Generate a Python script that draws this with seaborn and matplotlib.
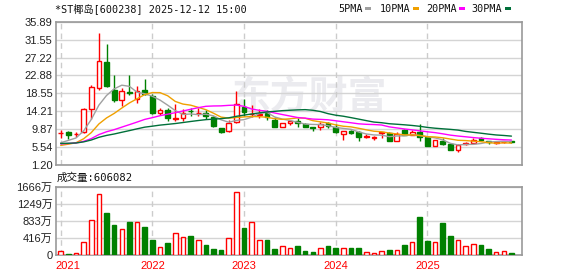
import numpy as np
import pandas as pd
import matplotlib
matplotlib.use("Agg")
import matplotlib.pyplot as plt
import seaborn as sns
from matplotlib.patches import Rectangle

# ---------------- data (monthly K-line, 2021-01 .. 2025-12) ----------------
months = pd.date_range("2021-01-01", periods=60, freq="MS")

open_ = [8.85, 9.20, 8.80, 9.12, 14.69, 19.86, 26.14, 19.46, 16.99, 18.82, 17.23, 19.38,
         17.87, 13.89, 14.45, 12.38, 12.46, 14.37, 13.70, 13.89, 12.86, 10.15, 9.36, 11.66,
         15.28, 13.50, 13.36, 13.68, 12.16, 10.49, 11.37, 11.93, 11.13, 10.49, 10.49, 11.29,
         10.49, 8.73, 9.53, 9.13, 7.93, 7.77, 8.89, 8.89, 7.13, 9.69, 8.57, 9.29,
         7.93, 5.78, 7.13, 6.18, 4.75, 6.18, 6.50, 7.69, 6.89, 6.57, 6.65, 6.89]
high = [9.68, 9.44, 9.20, 15.09, 20.57, 33.20, 30.44, 23.04, 19.86, 23.04, 20.33, 22.00,
        18.27, 15.08, 15.08, 15.88, 14.69, 15.08, 14.93, 14.53, 13.10, 10.20, 12.06, 19.06,
        17.11, 15.76, 14.72, 14.48, 12.72, 11.29, 12.08, 12.56, 11.45, 10.50, 11.53, 11.69,
        11.13, 9.40, 9.77, 9.53, 8.73, 8.33, 9.14, 9.29, 9.13, 9.93, 9.77, 11.13,
        7.95, 7.30, 7.77, 6.20, 6.20, 6.73, 7.69, 8.09, 7.13, 7.05, 7.05, 7.00]
low = [7.69, 7.53, 7.93, 8.88, 12.30, 19.46, 20.00, 16.52, 15.48, 18.03, 16.28, 18.19,
       13.57, 13.26, 11.90, 11.90, 11.90, 13.10, 13.10, 12.38, 10.39, 9.05, 9.28, 11.43,
       13.12, 12.88, 12.48, 12.08, 10.49, 10.49, 10.97, 10.49, 10.49, 9.37, 9.77, 10.17,
       8.89, 7.37, 8.73, 6.97, 7.77, 7.29, 7.77, 6.97, 6.97, 8.40, 8.49, 7.13,
       5.70, 5.70, 5.94, 4.85, 4.35, 5.94, 6.18, 6.97, 6.18, 6.34, 6.50, 6.60]
close = [8.92, 8.56, 8.82, 14.69, 20.10, 26.30, 20.25, 16.83, 19.14, 18.66, 19.14, 18.50,
         13.73, 14.53, 12.54, 12.54, 13.89, 14.21, 13.81, 13.02, 10.55, 9.12, 11.27, 16.04,
         13.92, 13.55, 13.52, 12.72, 10.49, 11.29, 11.93, 11.29, 10.49, 10.09, 11.13, 10.57,
         9.13, 9.37, 8.97, 7.93, 8.17, 7.93, 9.13, 7.13, 8.73, 8.49, 9.13, 8.09,
         5.78, 7.29, 6.18, 4.91, 6.10, 6.42, 7.37, 7.21, 6.65, 6.73, 6.81, 6.65]
# volume in 万
volume = [113, 24, 48, 314, 861, 1489, 1038, 724, 644, 797, 813, 676,
          362, 209, 290, 547, 451, 459, 378, 242, 145, 121, 427, 1538,
          652, 813, 378, 362, 145, 233, 185, 217, 97, 72, 185, 217,
          169, 185, 169, 169, 89, 64, 113, 121, 137, 242, 330, 942,
          338, 314, 773, 459, 378, 233, 266, 242, 145, 89, 113, 60.6]
# estimated monthly closes before 2021 (only feed the moving averages)
prior_closes = [6.9, 6.8, 6.7, 6.6, 6.5, 6.6, 6.5, 6.6, 6.5, 6.3, 6.4, 6.6, 6.8, 6.9, 6.7,
                6.6, 6.7, 6.8, 6.6, 6.7, 5.6, 5.3, 5.1, 5.2, 5.3, 5.7, 5.9, 6.1, 6.3]

ma_periods = [5, 10, 20, 30]
ma_names = ["5PMA", "10PMA", "20PMA", "30PMA"]
ma_colors = ["#a0a0a0", "#f0a000", "#ff00ff", "#00703a"]
price_ticks = ["1.20", "5.54", "9.87", "14.21", "18.55", "22.88", "27.22", "31.55", "35.89"]
vol_ticks = ["0", "416万", "833万", "1249万", "1666万"]
year_labels = ["2021", "2022", "2023", "2024", "2025"]
title = "*ST椰岛[600238] 2025-12-12 15:00"
vol_title = "成交量:606082"

# ---------------- style ----------------
sns.set_theme(style="white")
plt.rcParams["font.family"] = ["Liberation Sans", "Noto Sans CJK SC", "DejaVu Sans"]
mono = ["DejaVu Sans Mono", "Noto Sans CJK SC"]
UP, DOWN = "#ff0000", "#008000"
GRID, FRAME, DASH = "#d4d4d4", "#999999", "#cccccc"

W, H = 578, 276
fig = plt.figure(figsize=(W / 100, H / 100), dpi=100)
fig.patch.set_facecolor("white")
L, R = 56, 522
axp = fig.add_axes([L / W, 1 - 165 / H, (R - L) / W, (165 - 21.7) / H])
axv = fig.add_axes([L / W, 1 - 255.3 / H, (R - L) / W, (255.3 - 186.7) / H])

n = len(close)
x = np.arange(n)
o, h, lo, c, v = map(np.asarray, (open_, high, low, close, volume))
prev = np.concatenate([[prior_closes[-1]], c[:-1]])
up = (c > o) | ((c == o) & (c >= prev))
colors = np.where(up, UP, DOWN)

# watermark
axp.text(0.545, 0.47, "东方财富", transform=axp.transAxes, ha="center", va="center",
         fontsize=28, fontweight="bold", color="#ebebef", family=["Noto Sans CJK SC"], zorder=0)

# candles
bw = 0.62
axp.vlines(x, lo, h, colors=colors, lw=1.0, zorder=2)
body_lo = np.minimum(o, c)
body_h = np.abs(c - o)
axp.bar(x, body_h, bottom=body_lo, width=bw,
        facecolor=np.where(up, "white", DOWN), edgecolor=colors, linewidth=1.0, zorder=3)

# moving averages via seaborn
allc = pd.Series(list(prior_closes) + list(close))
rows = []
for p, name in zip(ma_periods, ma_names):
    ma = allc.rolling(p, min_periods=1).mean().to_numpy()[len(prior_closes):]
    rows.append(pd.DataFrame({"idx": x, "value": ma, "ma": name}))
ma_df = pd.concat(rows, ignore_index=True)
sns.lineplot(data=ma_df, x="idx", y="value", hue="ma", hue_order=ma_names,
             palette=dict(zip(ma_names, ma_colors)), ax=axp, legend=False,
             lw=1.0, zorder=4, estimator=None, sort=False)

# volume
axv.bar(x, v, width=0.6, facecolor=np.where(up, "white", DOWN), edgecolor=colors,
        linewidth=1.0, zorder=3)

# axes cosmetics
xl = (-0.615, 60.38)
for ax in (axp, axv):
    ax.set_xlim(*xl)
    ax.set_xlabel("")
    ax.set_ylabel("")
    ax.set_xticks([])
    ax.tick_params(axis="y", length=0, pad=2.5, labelsize=8, colors="#222222")
    for s in ax.spines.values():
        s.set_color(FRAME)
        s.set_linewidth(1.2)
    ax.set_facecolor("white")
    for yi in range(0, n, 12):
        ax.axvline(yi, color=DASH, lw=1.0, ls=(0, (4, 3)), zorder=1)

pv = [float(t) for t in price_ticks]
axp.set_ylim(pv[0], pv[-1])
axp.set_yticks(pv)
axp.set_yticklabels(price_ticks)
axp.grid(axis="y", color=GRID, lw=1.0)
axp.grid(axis="x", visible=False)
axp.set_axisbelow(True)

vv = np.linspace(0, 1666, 5)
axv.set_ylim(0, 1666)
axv.set_yticks(vv)
axv.set_yticklabels(vol_ticks)
axv.grid(axis="y", color=GRID, lw=1.0)
axv.grid(axis="x", visible=False)
axv.set_axisbelow(True)

# year labels
for k, lab in enumerate(year_labels):
    xi = 12 * k
    if k == 0:
        axv.text(-0.75, -0.16, lab, transform=axv.get_xaxis_transform(), ha="left",
                 va="center", color="#ff0000", fontsize=8)
    else:
        axv.text(xi, -0.16, lab, transform=axv.get_xaxis_transform(), ha="center",
                 va="center", color="#ff0000", fontsize=8)

# titles
fig.text(55 / W, 1 - 9 / H, title, ha="left", va="center", fontsize=7.3, family=mono,
         color="#111111")
fig.text(57 / W, 1 - 177.5 / H, vol_title, ha="left", va="center", fontsize=7.6,
         family=mono, color="#111111")

# legend
leg_x = [338.3, 380, 425.7, 471.7]
rect_x = [365, 412.7, 459.3, 505.3]
for name, col, tx, rx in zip(ma_names, ma_colors, leg_x, rect_x):
    fig.text(tx / W, 1 - 9 / H, name, ha="left", va="center", fontsize=7.3,
             family=mono, color="#111111")
    fig.patches.append(Rectangle((rx / W, 1 - 9.5 / H), 5.8 / W, 2.2 / H,
                                 transform=fig.transFigure, facecolor=col,
                                 edgecolor="none"))

fig.savefig("out.png", dpi=100, facecolor="white")
